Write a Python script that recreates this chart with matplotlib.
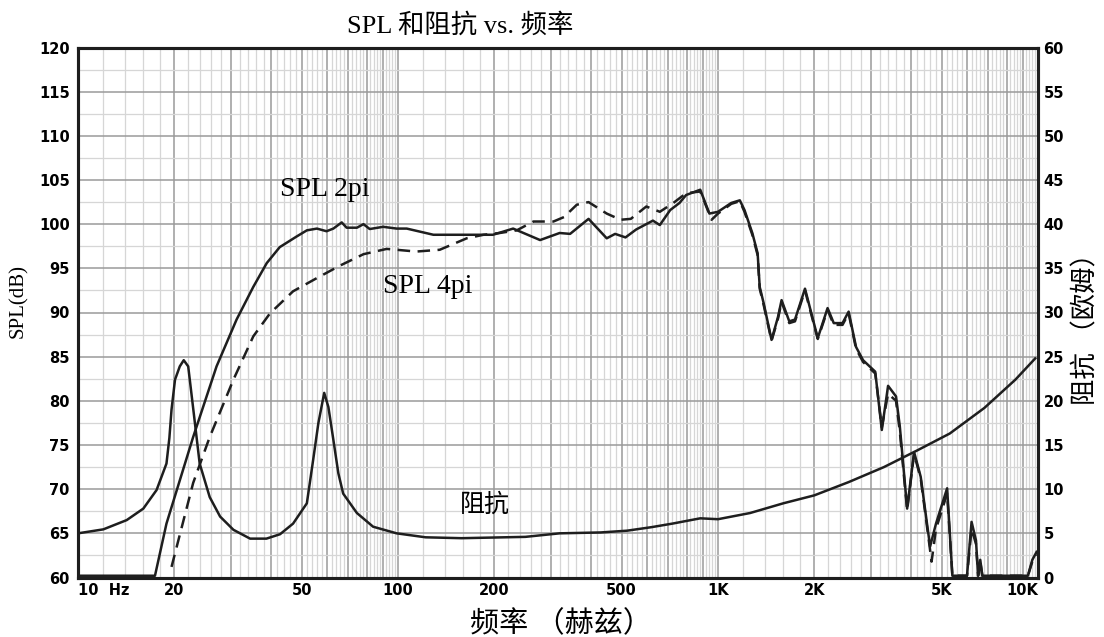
import numpy as np
import matplotlib
matplotlib.use("Agg")
import matplotlib.pyplot as plt
from matplotlib.ticker import FixedLocator, NullFormatter

# impedance (ohm) vs frequency (Hz)
imp_f = [10, 12, 14.2, 16, 17.6, 18.9, 19.3, 19.6, 20.1, 20.8, 21.4, 22.1, 23.0, 24.0,
         25.8, 27.8, 30.6, 34.5, 38.8, 42.8, 47.0, 51.9, 54.3, 56.4, 58.8, 60.6, 62.8,
         65.1, 67.4, 74.4, 83.6, 99, 122, 158, 250, 320, 430, 520, 620, 720, 880, 1000,
         1260, 1600, 2000, 2560, 3300, 4200, 5300, 6800, 8500, 9800]
imp_z = [5.0, 5.45, 6.5, 7.8, 9.9, 12.9, 15.8, 19.0, 22.4, 23.9, 24.6, 23.9, 18.6, 12.9,
         9.1, 6.9, 5.4, 4.4, 4.4, 4.9, 6.1, 8.4, 13.3, 17.5, 20.9, 19.3, 15.6,
         11.8, 9.5, 7.3, 5.75, 5.0, 4.55, 4.45, 4.6, 5.0, 5.1, 5.3, 5.7, 6.1, 6.7, 6.6,
         7.3, 8.4, 9.3, 10.8, 12.5, 14.4, 16.3, 19.2, 22.4, 24.8]

# SPL 2pi (dB)
s2_f = [10, 17.4, 18.9, 22.9, 27.1, 31.3, 35.3, 38.9, 42.7, 48.2, 51.9, 55.8, 59.8, 62.8,
        66.7, 69.1, 74.4, 78.0, 81.6, 89.9, 99, 106.5, 129, 164, 198, 229, 278, 320, 345,
        394, 449, 477, 514, 555, 626, 658, 709, 758, 795, 880, 940, 1000, 1100, 1170,
        1210, 1280, 1330, 1350, 1390, 1470, 1540, 1580, 1670, 1740, 1870, 2050, 2200,
        2300, 2450, 2560, 2700, 2840, 3100, 3250, 3400, 3600, 3700, 3900, 4100, 4300,
        4600, 4800, 5200, 5400, 6000, 6200, 6400, 6500, 6600, 6700, 9300, 9600, 9900]
s2_db = [60.2, 60.2, 66.1, 75.9, 83.9, 89.2, 92.9, 95.6, 97.4, 98.6, 99.3, 99.5, 99.2, 99.5,
         100.2, 99.6, 99.6, 100.0, 99.45, 99.7, 99.5, 99.5, 98.8, 98.8, 98.8, 99.5, 98.2, 99.0, 98.9,
         100.6, 98.4, 98.9, 98.5, 99.4, 100.4, 99.9, 101.6, 102.4, 103.3, 103.9, 101.2, 101.4, 102.4, 102.7,
         101.6, 99.0, 96.7, 92.9, 91.0, 86.9, 89.5, 91.4, 89.0, 89.2, 92.7, 87.1, 90.5,
         88.8, 88.8, 90.1, 86.1, 84.6, 83.3, 76.7, 81.7, 80.5, 77.1, 67.8, 74.2, 71.4,
         63.5, 66.1, 70.1, 60.2, 60.2, 66.3, 64.2, 60.2, 62.0, 60.2, 60.2, 62.0, 62.9]

# SPL 4pi (dB)
s4_f = [19.6, 22.9, 25.8, 30.6, 35.3, 39.8, 47, 55.8, 65.8, 78, 92.2, 114, 135, 164, 185,
        208, 235, 265, 306, 330, 362, 394, 449, 496, 534, 597, 658, 725, 795, 880, 955,
        1000, 1100, 1170, 1210, 1280, 1330, 1350, 1390, 1470, 1540, 1580, 1670, 1740, 1870,
        2050, 2200, 2300, 2450, 2560, 2700, 2840, 3100, 3250, 3400, 3600, 3700, 3900, 4100,
        4300, 4650, 4800, 5200, 5400, 6000, 6200, 6400, 6500, 6600, 6700, 9300, 9600, 9900]
s4_db = [61.2, 70.7, 75.9, 82.4, 87.3, 89.9, 92.4, 93.9, 95.3, 96.6, 97.2, 96.9, 97.1, 98.4, 98.8,
         99.0, 99.3, 100.3, 100.3, 100.8, 102.2, 102.5, 101.2, 100.5, 100.6, 102.0, 101.4, 102.4, 103.5, 103.7, 100.5,
         101.2, 102.3, 102.6, 101.4, 98.8, 96.5, 92.7, 90.8, 86.8, 89.3, 91.2, 88.8, 89.0, 92.5,
         87.0, 90.3, 88.6, 88.6, 89.9, 85.9, 84.4, 83.1, 77.0, 80.8, 80.0, 76.5, 67.6, 74.0,
         71.2, 61.8, 65.5, 69.5, 60.2, 60.2, 65.5, 63.8, 60.2, 61.8, 60.2, 60.2, 61.8, 62.6]

x_labels = {10: "10  Hz", 20: "20", 50: "50", 100: "100", 200: "200", 500: "500",
            1000: "1K", 2000: "2K", 5000: "5K", 10000: "10K"}

cjk = ["Liberation Serif", "Noto Sans CJK SC", "DejaVu Sans"]
tickfont = ["Liberation Sans Narrow", "DejaVu Sans"]
ink = "#1e1e1e"

fig = plt.figure(figsize=(11.04, 6.37), dpi=100)
ax = fig.add_axes([78 / 1104, 1 - 577.5 / 637, 960 / 1104, 530 / 637])

ax.set_xscale("log")
ax.set_xlim(10, 10000)
ax.set_ylim(60, 120)

# grid: darker line at every integer multiple, lighter at 0.2 steps
major = [k * 10 ** d for d in range(1, 4) for k in range(1, 10)] + [10000]
minor = [round(m * 10 ** d, 6) for d in range(1, 4)
         for m in np.arange(1.2, 10, 0.2) if abs(m - round(m)) > 1e-6]
ax.xaxis.set_major_locator(FixedLocator(major))
ax.xaxis.set_minor_locator(FixedLocator(minor))
ax.set_xticklabels([x_labels.get(v, "") for v in major])
ax.xaxis.set_minor_formatter(NullFormatter())
ax.set_yticks(np.arange(60, 121, 5))
ax.set_yticks(np.arange(62.5, 120, 5), minor=True)

ax.grid(True, which="major", color="#9a9a9a", linewidth=1.1)
ax.grid(True, which="minor", color="#d6d6d6", linewidth=0.9)
ax.set_axisbelow(True)
ax.tick_params(which="both", length=0)
ax.tick_params(axis="x", pad=4)
ax.tick_params(axis="y", pad=6)
for lab in ax.get_xticklabels() + ax.get_yticklabels():
    lab.set_fontfamily(tickfont)
    lab.set_fontweight("bold")
    lab.set_fontsize(10.5)
ax.get_xticklabels()[0].set_horizontalalignment("left")
ax.get_xticklabels()[-1].set_horizontalalignment("right")

ax.plot(s2_f, s2_db, color=ink, lw=1.8, zorder=3)
ax.plot(s4_f, s4_db, color=ink, lw=1.8, linestyle=(0, (5, 3)), zorder=3)

ax2 = ax.twinx()
ax2.set_ylim(0, 60)
ax2.set_yticks(np.arange(0, 61, 5))
ax2.tick_params(length=0, pad=4)
for lab in ax2.get_yticklabels():
    lab.set_fontfamily(tickfont)
    lab.set_fontweight("bold")
    lab.set_fontsize(10.5)
ax2.plot(imp_f, imp_z, color=ink, lw=1.8, zorder=3)

for a in (ax, ax2):
    for sp in a.spines.values():
        sp.set_linewidth(2.2)
        sp.set_color(ink)

ax.text(42.8, 103.9, "SPL 2pi", family=cjk, fontsize=20, va="center", ha="left")
ax.text(89.8, 92.9, "SPL 4pi", family=cjk, fontsize=20, va="center", ha="left")
ax.text(156, 68.2, "阻抗", family=cjk, fontsize=18, va="center", ha="left")

fig.text(0.417, 0.961, "SPL 和阻抗 vs. 频率", family=cjk, fontsize=19, ha="center", va="center")
fig.text(0.508, 0.02, "频率 （赫兹）", family=cjk, fontsize=21, ha="center", va="center")
fig.text(0.017, 0.527, "SPL(dB)", family=cjk, fontsize=15, rotation=90, ha="center", va="center")
fig.text(0.984, 0.494, "阻抗 （欧姆）", family=cjk, fontsize=19, rotation=90, ha="center", va="center")

fig.savefig("out.png", dpi=100)
